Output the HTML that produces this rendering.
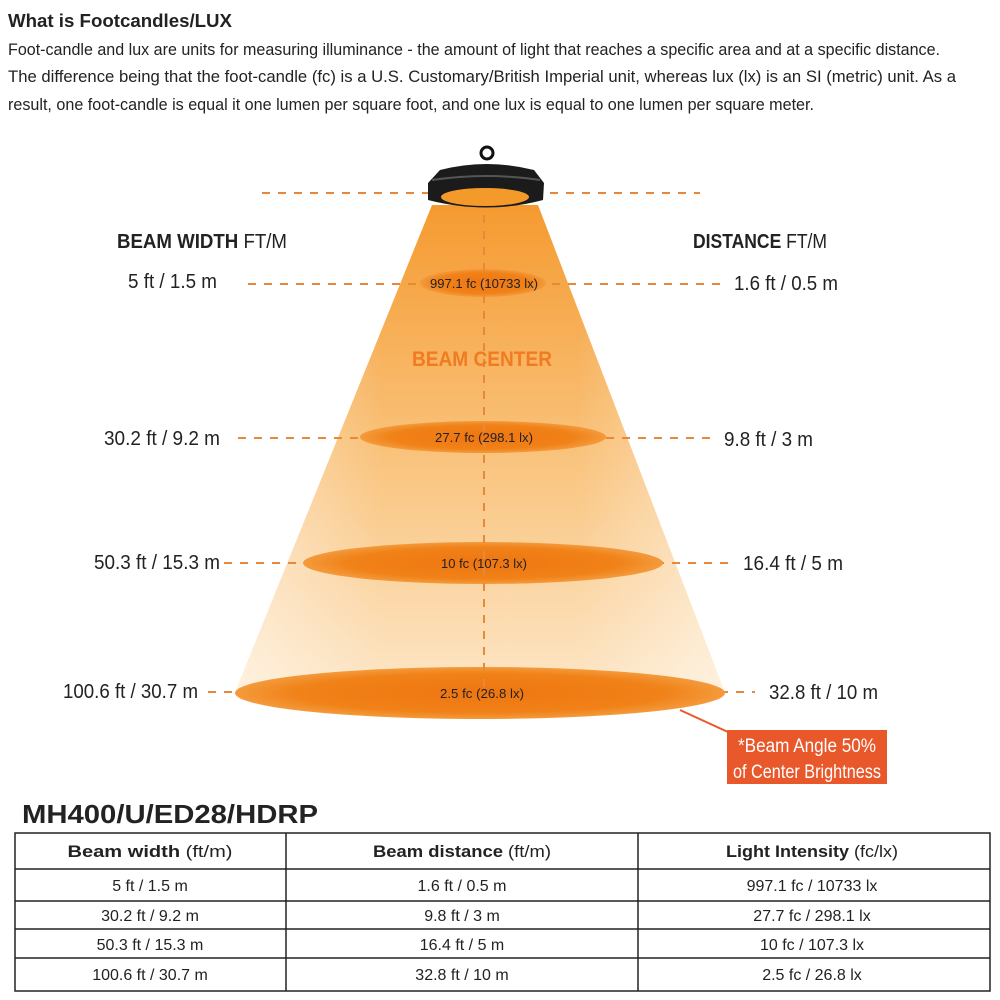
<!DOCTYPE html>
<html><head><meta charset="utf-8"><style>
html,body{margin:0;padding:0;background:#fff;}
svg{display:block;font-family:"Liberation Sans",sans-serif;}
</style></head><body>
<svg width="1000" height="1000" viewBox="0 0 1000 1000">
<defs>
<linearGradient id="cone" x1="0" y1="0" x2="0" y2="1">
<stop offset="0" stop-color="#f59a30"/><stop offset="0.5" stop-color="#f9c27a"/><stop offset="1" stop-color="#fde6c6"/>
</linearGradient>
<linearGradient id="side" x1="0" y1="0" x2="1" y2="0">
<stop offset="0" stop-color="#fff" stop-opacity="0.45"/><stop offset="0.3" stop-color="#fff" stop-opacity="0"/><stop offset="0.7" stop-color="#fff" stop-opacity="0"/><stop offset="1" stop-color="#fff" stop-opacity="0.45"/>
</linearGradient>
<radialGradient id="ell"><stop offset="0" stop-color="#ef7510"/><stop offset="0.75" stop-color="#f08218"/><stop offset="1" stop-color="#f49a3c"/></radialGradient>
</defs>
<g fill="#222">
<text x="8" y="27" font-size="18" font-weight="bold" textLength="224" lengthAdjust="spacingAndGlyphs">What is Footcandles/LUX</text>
<text x="8" y="55" font-size="17" textLength="932" lengthAdjust="spacingAndGlyphs">Foot-candle and lux are units for measuring illuminance - the amount of light that reaches a specific area and at a specific distance.</text>
<text x="8" y="82" font-size="17" textLength="948" lengthAdjust="spacingAndGlyphs">The difference being that the foot-candle (fc) is a U.S. Customary/British Imperial unit, whereas lux (lx) is an SI (metric) unit. As a</text>
<text x="8" y="110" font-size="17" textLength="806" lengthAdjust="spacingAndGlyphs">result, one foot-candle is equal it one lumen per square foot, and one lux is equal to one lumen per square meter.</text>
</g>
<polygon points="432,205 538,205 724,690 236,690" fill="url(#cone)"/>
<polygon points="432,205 538,205 724,690 236,690" fill="url(#side)"/>
<g stroke="#e8883a" stroke-width="2" stroke-dasharray="8,8">
<line x1="262" y1="193" x2="700" y2="193"/>
<line x1="248" y1="284" x2="725" y2="284"/>
<line x1="238" y1="438" x2="718" y2="438"/>
<line x1="224" y1="563" x2="735" y2="563"/>
<line x1="208" y1="692" x2="755" y2="692"/>
</g>
<ellipse cx="483" cy="283" rx="63" ry="14" fill="url(#ell)"/>
<ellipse cx="483" cy="437" rx="123" ry="16" fill="url(#ell)"/>
<ellipse cx="483" cy="563" rx="180" ry="21" fill="url(#ell)"/>
<ellipse cx="480" cy="693" rx="245" ry="26" fill="url(#ell)"/>
<line x1="484" y1="215" x2="484" y2="690" stroke="#e8883a" stroke-width="2" stroke-dasharray="8,8"/>
<circle cx="487" cy="153" r="6" fill="none" stroke="#111" stroke-width="3"/>
<path d="M440,170 Q487,158 534,170 L544,183 L543,200 Q487,215 428,200 L428,183 Z" fill="#1b1b1b"/>
<path d="M432,180 Q487,172 540,180" stroke="#555" stroke-width="2" fill="none"/>
<ellipse cx="485" cy="197" rx="44" ry="9" fill="#f39a2a"/>
<g fill="#222" font-size="13" text-anchor="middle">
<text x="484" y="288" textLength="108" lengthAdjust="spacingAndGlyphs">997.1 fc (10733 lx)</text>
<text x="484" y="442" textLength="98" lengthAdjust="spacingAndGlyphs">27.7 fc (298.1 lx)</text>
<text x="484" y="568" textLength="86" lengthAdjust="spacingAndGlyphs">10 fc (107.3 lx)</text>
<text x="482" y="698" textLength="84" lengthAdjust="spacingAndGlyphs">2.5 fc (26.8 lx)</text>
</g>
<text x="412" y="366" font-size="21" font-weight="bold" fill="#f07b22" textLength="140" lengthAdjust="spacingAndGlyphs">BEAM CENTER</text>
<g fill="#222" font-size="20">
<text x="117" y="248" textLength="170" lengthAdjust="spacingAndGlyphs"><tspan font-weight="bold">BEAM WIDTH</tspan> FT/M</text>
<text x="693" y="248" textLength="134" lengthAdjust="spacingAndGlyphs"><tspan font-weight="bold">DISTANCE</tspan> FT/M</text>
<text x="128" y="288" textLength="89" lengthAdjust="spacingAndGlyphs">5 ft / 1.5 m</text>
<text x="734" y="290" textLength="104" lengthAdjust="spacingAndGlyphs">1.6 ft / 0.5 m</text>
<text x="104" y="445" textLength="116" lengthAdjust="spacingAndGlyphs">30.2 ft / 9.2 m</text>
<text x="724" y="446" textLength="89" lengthAdjust="spacingAndGlyphs">9.8 ft / 3 m</text>
<text x="94" y="569" textLength="126" lengthAdjust="spacingAndGlyphs">50.3 ft / 15.3 m</text>
<text x="743" y="570" textLength="100" lengthAdjust="spacingAndGlyphs">16.4 ft / 5 m</text>
<text x="63" y="698" textLength="135" lengthAdjust="spacingAndGlyphs">100.6 ft / 30.7 m</text>
<text x="769" y="699" textLength="109" lengthAdjust="spacingAndGlyphs">32.8 ft / 10 m</text>
</g>
<line x1="680" y1="710" x2="728" y2="732" stroke="#e8582a" stroke-width="2"/>
<rect x="727" y="730" width="160" height="54" fill="#e8582a"/>
<g fill="#fff" font-size="19" text-anchor="middle">
<text x="807" y="752" textLength="138" lengthAdjust="spacingAndGlyphs">*Beam Angle 50%</text>
<text x="807" y="778" textLength="148" lengthAdjust="spacingAndGlyphs">of Center Brightness</text>
</g>
<text x="22" y="823" font-size="26" font-weight="bold" fill="#222" textLength="296" lengthAdjust="spacingAndGlyphs">MH400/U/ED28/HDRP</text>
<g stroke="#222" stroke-width="1.5" fill="none">
<rect x="15" y="833" width="975" height="158"/>
<line x1="15" y1="869" x2="990" y2="869"/>
<line x1="15" y1="901" x2="990" y2="901"/>
<line x1="15" y1="929" x2="990" y2="929"/>
<line x1="15" y1="958" x2="990" y2="958"/>
<line x1="286" y1="833" x2="286" y2="991"/>
<line x1="638" y1="833" x2="638" y2="991"/>
</g>
<g fill="#222" font-size="17" text-anchor="middle">
<text x="150" y="857" textLength="165" lengthAdjust="spacingAndGlyphs"><tspan font-weight="bold">Beam width</tspan> (ft/m)</text>
<text x="462" y="857" textLength="178" lengthAdjust="spacingAndGlyphs"><tspan font-weight="bold">Beam distance</tspan> (ft/m)</text>
<text x="812" y="857" textLength="172" lengthAdjust="spacingAndGlyphs"><tspan font-weight="bold">Light Intensity</tspan> (fc/lx)</text>
</g>
<g fill="#222" font-size="16" text-anchor="middle">
<text x="150" y="891">5 ft / 1.5 m</text><text x="462" y="891">1.6 ft / 0.5 m</text><text x="812" y="891">997.1 fc / 10733 lx</text>
<text x="150" y="921">30.2 ft / 9.2 m</text><text x="462" y="921">9.8 ft / 3 m</text><text x="812" y="921">27.7 fc / 298.1 lx</text>
<text x="150" y="950">50.3 ft / 15.3 m</text><text x="462" y="950">16.4 ft / 5 m</text><text x="812" y="950">10 fc / 107.3 lx</text>
<text x="150" y="980">100.6 ft / 30.7 m</text><text x="462" y="980">32.8 ft / 10 m</text><text x="812" y="980">2.5 fc / 26.8 lx</text>
</g>
</svg>
</body></html>
